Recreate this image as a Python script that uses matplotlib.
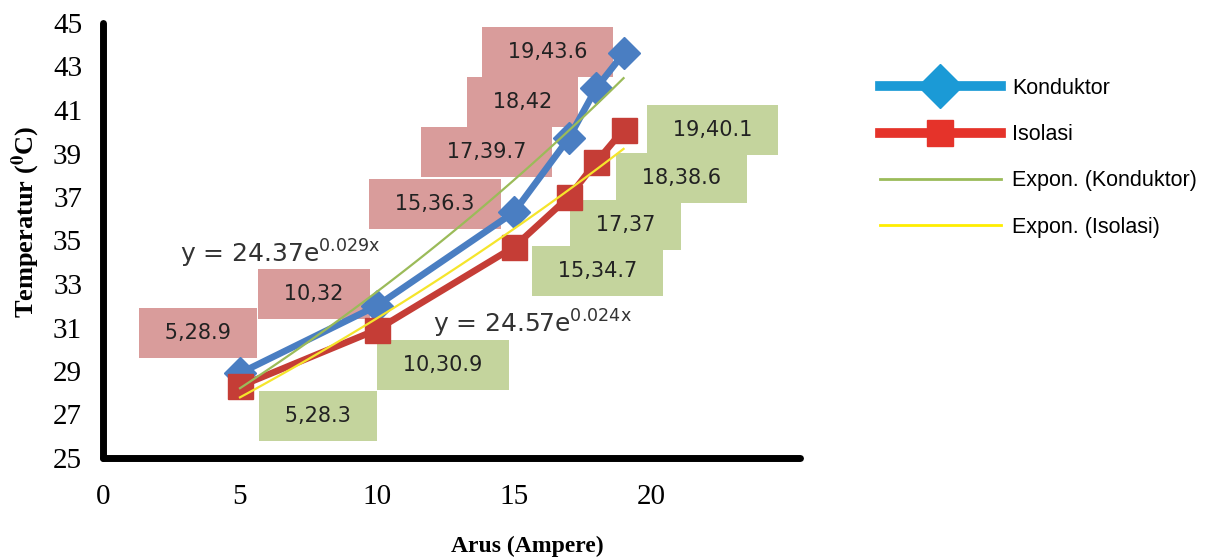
import numpy as np
import matplotlib
matplotlib.use("Agg")
import matplotlib.pyplot as plt
from matplotlib.lines import Line2D

# ---- data ----
arus = [5, 10, 15, 17, 18, 19]
konduktor = [28.9, 32, 36.3, 39.7, 42, 43.6]
isolasi = [28.3, 30.9, 34.7, 37, 38.6, 40.1]
series_names = ["Konduktor", "Isolasi"]
trend_names = ["Expon. (Konduktor)", "Expon. (Isolasi)"]
equations = [r"y = 24.37e$^{\mathrm{0.029x}}$", r"y = 24.57e$^{\mathrm{0.024x}}$"]
xticks = [0, 5, 10, 15, 20]
yticks = list(range(25, 46, 2))

# ---- style / layout ----
line_colors = ["#4A7EC2", "#C53D36"]
legend_colors = ["#1B9AD6", "#E5332A"]
trend_colors = ["#9BBB59", "#F5E52C"]
box_colors = ["#D99C9B", "#C4D49D"]
k_offsets = [(-42, 40), (-63, 12), (-79, 8), (-82, -14), (-74, -14), (-76, 1)]
i_offsets = [(78, -30), (66, -35), (84, -24), (57, -28), (85, -16), (89, 0)]
eq_pos = [(2.81, 34.0), (12.04, 30.75)]

fig = plt.figure(figsize=(12.18, 5.59), dpi=100)
ax = fig.add_axes([103 / 1218, 1 - 458 / 559, 697 / 1218, 435 / 559])
ax.set_xlim(0, 25.44)
ax.set_ylim(25, 45)

for s in ["top", "right"]:
    ax.spines[s].set_visible(False)
for s in ["left", "bottom"]:
    ax.spines[s].set_linewidth(5)
    ax.spines[s].set_color("black")
    ax.spines[s].set_capstyle("round")

ax.set_xticks(xticks)
ax.set_yticks(yticks)
ax.tick_params(axis="both", length=0)
ax.tick_params(axis="y", pad=15)
ax.tick_params(axis="x", pad=19)
for lab in ax.get_xticklabels() + ax.get_yticklabels():
    lab.set_fontfamily("Liberation Serif")
    lab.set_fontsize(21)

ax.set_xlabel("Arus (Ampere)", family="Liberation Serif", fontweight="bold",
              fontsize=17, va="center")
ax.xaxis.set_label_coords((527 - 103) / 697, (458 - 546) / 435)
ylab = ax.set_ylabel(r"Temperatur ($^{\mathbf{0}}$C)", family="Liberation Serif",
                     fontweight="bold", fontsize=19, va="center")
ylab.set_math_fontfamily("stix")
ax.yaxis.set_label_coords((26 - 103) / 697, (458 - 222) / 435)

# series
markers = ["D", "s"]
msizes = [16, 18]
for vals, c, m, ms, name in zip([konduktor, isolasi], line_colors, markers, msizes, series_names):
    ax.plot(arus, vals, color=c, lw=4.8, marker=m, ms=ms, mec=c, mfc=c,
            solid_joinstyle="round", zorder=3, label=name)

# exponential trendlines (least squares fit on ln y, as the spreadsheet does)
xs = np.linspace(min(arus), max(arus), 60)
for vals, c, name in zip([konduktor, isolasi], trend_colors, trend_names):
    b, lna = np.polyfit(arus, np.log(vals), 1)
    ax.plot(xs, np.exp(lna) * np.exp(b * xs), color=c, lw=1.6, zorder=4, label=name)

# data labels
for vals, offs, bc in zip([konduktor, isolasi], [k_offsets, i_offsets], box_colors):
    for x, y, off in zip(arus, vals, offs):
        ax.annotate(f"\u2009 {x},{y:g} \u2009", xy=(x, y), xytext=off,
                    textcoords="offset pixels",
                    ha="center", va="center", fontsize=15, family="DejaVu Sans",
                    color="#222222", zorder=2,
                    bbox=dict(boxstyle="square,pad=0.72", fc=bc, ec="none"))

# equations
for (ex, ey), eq in zip(eq_pos, equations):
    t = ax.text(ex, ey, eq, fontsize=18, family="DejaVu Sans", color="#333333",
                va="baseline", ha="left", zorder=5)
    t.set_math_fontfamily("dejavusans")

# legend
handles = [
    Line2D([], [], color=legend_colors[0], lw=7, marker="D", ms=22,
           mfc=legend_colors[0], mec=legend_colors[0]),
    Line2D([], [], color=legend_colors[1], lw=7, marker="s", ms=19,
           mfc=legend_colors[1], mec=legend_colors[1]),
    Line2D([], [], color=trend_colors[0], lw=2),
    Line2D([], [], color="#FFEE00", lw=2),
]
fig.legend(handles, series_names + trend_names, loc="upper left",
           bbox_to_anchor=(880 / 1218, 1 - 78 / 559), frameon=False,
           prop={"family": "Liberation Sans", "size": 15.5},
           handlelength=5.6, handletextpad=0.55, labelspacing=1.17,
           borderpad=0, borderaxespad=0)

fig.savefig("out.png", dpi=100)
